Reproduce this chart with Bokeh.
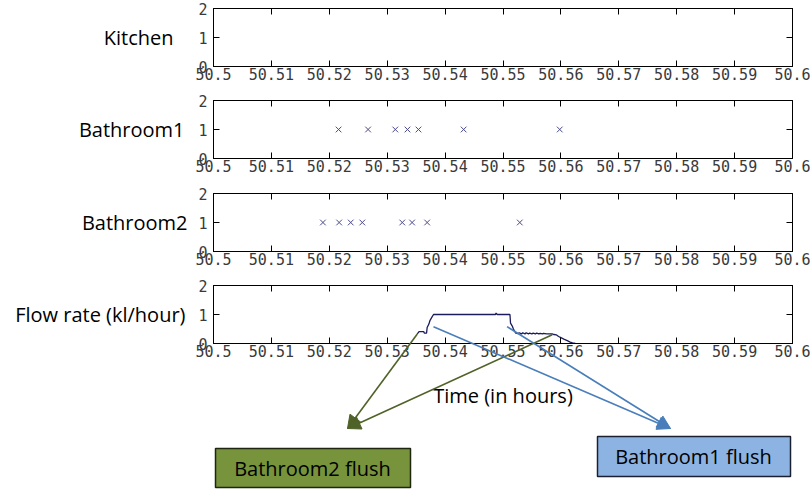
from bokeh.plotting import figure
from bokeh.models import (Range1d, FixedTicker, LinearAxis, Label, Arrow, NormalHead,
                          BoxAnnotation)
from bokeh.layouts import column
from bokeh.embed import file_html
from bokeh.resources import INLINE

# ---------------- data ----------------
x_ticks = [50.5, 50.51, 50.52, 50.53, 50.54, 50.55, 50.56, 50.57, 50.58, 50.59, 50.6]
x_tick_labels = ["50.5", "50.51", "50.52", "50.53", "50.54", "50.55",
                 "50.56", "50.57", "50.58", "50.59", "50.6"]
y_ticks = [0, 1, 2]
y_tick_labels = ["0", "1", "2"]
panel_names = ["Kitchen", "Bathroom1", "Bathroom2", "Flow rate (kl/hour)"]
x_axis_title = "Time (in hours)"

kitchen_times = []
bathroom1_times = [50.5216, 50.5267, 50.5314, 50.5335, 50.5354, 50.5432, 50.5598]
bathroom2_times = [50.5189, 50.5217, 50.5237, 50.5257, 50.5326, 50.5343, 50.5369, 50.5529]

flow_time = [50.5352, 50.5355, 50.5363, 50.5364, 50.5368, 50.5369, 50.5372, 50.5374,
             50.5377, 50.5380, 50.5487, 50.5488, 50.5490, 50.5512, 50.5513, 50.5516,
             50.5518, 50.5522, 50.5526, 50.5528, 50.5532, 50.5534, 50.5538, 50.5540,
             50.5544, 50.5546, 50.5550, 50.5552, 50.5556, 50.5558, 50.5562, 50.5564,
             50.5568, 50.5570, 50.5575, 50.5580, 50.5585, 50.5588, 50.5592, 50.5596,
             50.5600, 50.5606, 50.5611, 50.5616, 50.5620, 50.5625]
flow_rate = [0.33, 0.41, 0.41, 0.36, 0.36, 0.55, 0.67, 0.80,
             0.90, 1.00, 1.00, 1.05, 1.00, 1.00, 0.70, 0.60,
             0.50, 0.36, 0.34, 0.37, 0.33, 0.37, 0.33, 0.37,
             0.33, 0.36, 0.33, 0.36, 0.33, 0.36, 0.33, 0.35,
             0.33, 0.35, 0.33, 0.33, 0.33, 0.31, 0.30, 0.24,
             0.20, 0.14, 0.10, 0.05, 0.02, 0.00]

# annotation texts and arrow anchors (arrows start on the flow curve)
bath2_label = "Bathroom2 flush"
bath1_label = "Bathroom1 flush"
bath2_arrow_start_t = [50.5352, 50.5585]
bath2_arrow_start_v = [0.33, 0.30]
bath1_arrow_start_t = [50.5380, 50.5507]
bath1_arrow_start_v = [0.58, 0.58]

# ---------------- style / layout ----------------
W = 812
BORDER_L = 213
BORDER_R = 20
FRAME_H = 58
TICK_FONT = "DejaVu Sans Mono"
TICK_SIZE = "15px"
TICK_COLOR = "#3a3a3a"
NAME_FONT = "Open Sans"
NAME_SIZE = "20px"
MARK_COLOR = "#4a4a8c"
LINE_COLOR = "#1c1c5c"
GREEN = "#4f6228"
BLUE = "#4a7ebb"

x_overrides = {t: l for t, l in zip(x_ticks, x_tick_labels)}
y_overrides = {t: l for t, l in zip(y_ticks, y_tick_labels)}


def base_axis(ax):
    ax.major_tick_in = 6
    ax.major_tick_out = 0
    ax.minor_tick_line_color = None
    ax.minor_tick_in = 0
    ax.minor_tick_out = 0
    ax.axis_line_color = "black"
    ax.major_tick_line_color = "black"
    ax.major_label_text_font = TICK_FONT
    ax.major_label_text_font_size = TICK_SIZE
    ax.major_label_text_color = TICK_COLOR


def make_panel(name, height, top, bottom, name_standoff):
    p = figure(width=W, height=height, title=None,
               x_range=Range1d(50.5, 50.6), y_range=Range1d(0, 2),
               output_backend="svg", toolbar_location=None,
               min_border_left=BORDER_L, min_border_right=BORDER_R,
               min_border_top=top, min_border_bottom=bottom)
    p.xgrid.visible = False
    p.ygrid.visible = False
    p.outline_line_color = "black"
    p.outline_line_width = 1
    p.background_fill_color = "white"
    p.border_fill_color = "white"

    xa = p.below[0]
    xa.ticker = FixedTicker(ticks=x_ticks)
    xa.major_label_overrides = x_overrides
    base_axis(xa)
    xa.major_label_standoff = 1

    ya = p.left[0]
    ya.ticker = FixedTicker(ticks=y_ticks)
    ya.major_label_overrides = y_overrides
    base_axis(ya)
    ya.major_label_standoff = 6

    # series name as a horizontal label on a second left axis
    name_ax = LinearAxis(ticker=FixedTicker(ticks=[1]), major_label_overrides={1: name})
    name_ax.axis_line_color = None
    name_ax.major_tick_line_color = None
    name_ax.minor_tick_line_color = None
    name_ax.major_tick_in = 0
    name_ax.major_tick_out = 0
    name_ax.minor_tick_in = 0
    name_ax.minor_tick_out = 0
    name_ax.major_label_standoff = name_standoff
    name_ax.major_label_text_font = NAME_FONT
    name_ax.major_label_text_font_size = NAME_SIZE
    name_ax.major_label_text_color = "black"
    p.add_layout(name_ax, "left")

    # mirrored inward tick marks on top and right (no labels)
    top_ax = LinearAxis(ticker=FixedTicker(ticks=x_ticks))
    base_axis(top_ax)
    top_ax.major_label_text_font_size = "1px"
    top_ax.major_label_text_color = None
    top_ax.major_label_standoff = 0
    p.add_layout(top_ax, "above")

    right_ax = LinearAxis(ticker=FixedTicker(ticks=[1]))
    base_axis(right_ax)
    right_ax.major_label_text_font_size = "1px"
    right_ax.major_label_text_color = None
    right_ax.major_label_standoff = 0
    p.add_layout(right_ax, "right")
    return p, xa


p1, _ = make_panel(panel_names[0], 92, 8, 26, 22)
p1.scatter(kitchen_times, [1] * len(kitchen_times), marker="x", size=8,
           line_color=MARK_COLOR, line_width=1)

p2, _ = make_panel(panel_names[1], 93, 8, 27, 11)
p2.scatter(bathroom1_times, [1] * len(bathroom1_times), marker="x", size=8,
           line_color=MARK_COLOR, line_width=1)

p3, _ = make_panel(panel_names[2], 92, 8, 26, 8)
p3.scatter(bathroom2_times, [1] * len(bathroom2_times), marker="x", size=8,
           line_color=MARK_COLOR, line_width=1)

P4_H = 212
P4_TOP = 8
p4, xa4 = make_panel(panel_names[3], P4_H, P4_TOP, P4_H - P4_TOP - FRAME_H, 10)
p4.line(flow_time, flow_rate, line_color=LINE_COLOR, line_width=1.3)
xa4.axis_label = x_axis_title
xa4.axis_label_text_font = NAME_FONT
xa4.axis_label_text_font_size = NAME_SIZE
xa4.axis_label_text_font_style = "normal"
xa4.axis_label_text_color = "black"
xa4.axis_label_standoff = 22

# ---------- transparent overlay over the flow panel for arrows and boxes ----------
px_per_unit = FRAME_H / 2.0
ov_low = 2 - (P4_H - P4_TOP) / px_per_unit
ov = figure(width=W, height=P4_H, title=None,
            x_range=p4.x_range, y_range=Range1d(ov_low, 2),
            x_axis_location=None, y_axis_location=None,
            output_backend="svg", toolbar_location=None,
            min_border_left=BORDER_L, min_border_right=BORDER_R,
            min_border_top=P4_TOP, min_border_bottom=0)
ov.border_fill_color = None
ov.background_fill_color = None
ov.outline_line_color = None
for g in ov.grid:
    g.visible = False
ov.margin = (-P4_H, 0, 0, 0)

# boxes (screen units, relative to overlay frame: x from left, y from bottom)
ov.add_layout(BoxAnnotation(left=2, right=197, top=41, bottom=2,
                            left_units="screen", right_units="screen",
                            top_units="screen", bottom_units="screen",
                            fill_color="#77933c", fill_alpha=1.0,
                            line_color="#1e2610", line_width=1.5, line_alpha=1.0))
ov.add_layout(BoxAnnotation(left=384, right=577, top=53, bottom=13,
                            left_units="screen", right_units="screen",
                            top_units="screen", bottom_units="screen",
                            fill_color="#8db3e2", fill_alpha=1.0,
                            line_color="#1a2030", line_width=1.5, line_alpha=1.0))
ov.add_layout(Label(x=99, y=21, x_units="screen", y_units="screen", text=bath2_label,
                    text_align="center", text_baseline="middle",
                    text_font=NAME_FONT, text_font_size="20px", text_color="black"))
ov.add_layout(Label(x=480, y=33, x_units="screen", y_units="screen", text=bath1_label,
                    text_align="center", text_baseline="middle",
                    text_font=NAME_FONT, text_font_size="20px", text_color="black"))

for t, v in zip(bath2_arrow_start_t, bath2_arrow_start_v):
    ov.add_layout(Arrow(x_start=t, y_start=v, start_units="data",
                        x_end=134, y_end=61, end_units="screen",
                        line_color=GREEN, line_width=1.6,
                        end=NormalHead(size=13, fill_color=GREEN, line_color=GREEN)))
for t, v in zip(bath1_arrow_start_t, bath1_arrow_start_v):
    ov.add_layout(Arrow(x_start=t, y_start=v, start_units="data",
                        x_end=457, y_end=61, end_units="screen",
                        line_color=BLUE, line_width=1.6,
                        end=NormalHead(size=13, fill_color=BLUE, line_color=BLUE)))

layout = column(p1, p2, p3, p4, ov, spacing=0)
open("out.html", "w").write(file_html(layout, INLINE))
